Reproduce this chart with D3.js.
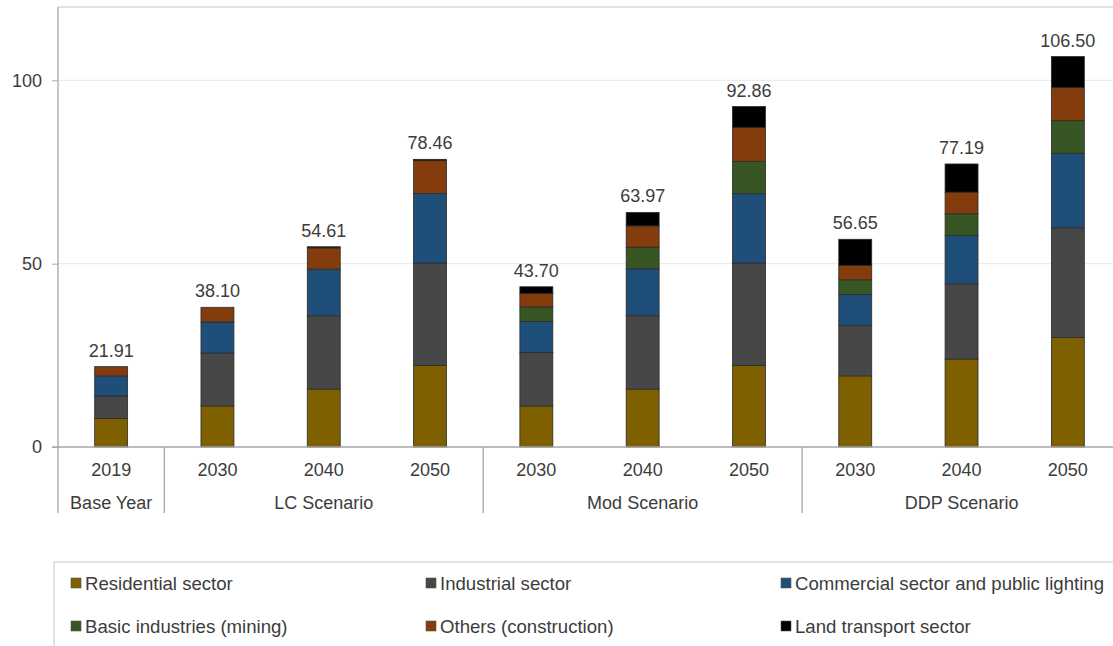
<!DOCTYPE html>
<html><head><meta charset="utf-8">
<script src="https://cdn.jsdelivr.net/npm/d3@7"></script>
<style>
html,body{margin:0;padding:0;background:#fff;}
svg{display:block;font-family:"Liberation Sans",Arial,sans-serif;}
</style></head>
<body><svg id="c" width="1113" height="646"></svg>
<script>
const keys = ["b2019","lc2030","lc2040","lc2050","m2030","m2040","m2050","d2030","d2040","d2050"];
const years = ["2019","2030","2040","2050","2030","2040","2050","2030","2040","2050"];
const groups = [
  {name:"Base Year", from:0, to:1},
  {name:"LC Scenario", from:1, to:4},
  {name:"Mod Scenario", from:4, to:7},
  {name:"DDP Scenario", from:7, to:10}
];
const totalLabels = ["21.91","38.10","54.61","78.46","43.70","63.97","92.86","56.65","77.19","106.50"];
const seriesNames = ["Residential sector","Industrial sector","Commercial sector and public lighting","Basic industries (mining)","Others (construction)","Land transport sector"];
const seriesColors = ["#7f6000","#474747","#1f4e79","#375623","#843c0c","#000000"];
const residential = [7.8,11.2,15.8,22.2,11.2,15.8,22.2,19.4,24.0,29.9];
const industrial  = [6.1,14.4,20.0,28.0,14.6,20.0,28.0,13.7,20.5,29.9];
const commercial  = [5.5,8.5,12.7,18.9,8.4,12.8,18.9,8.5,13.2,20.3];
const basic       = [0,0,0,0,4.0,5.9,8.8,4.0,5.9,8.9];
const others      = [2.51,4.0,5.8,9.0,3.7,5.8,9.2,3.9,5.9,9.0];
const transport   = [0,0,0.31,0.36,1.8,3.67,5.76,7.15,7.69,8.5];
const yTicks = [0,50,100];

const seriesVals = [residential,industrial,commercial,basic,others,transport];
const table = keys.map((k,i)=>{const o={key:k,year:years[i],label:totalLabels[i]}; seriesNames.forEach((s,j)=>o[s]=seriesVals[j][i]); return o;});

const svg = d3.select("#c");
const L=58, R=1121, T=7, B=447;
const x = d3.scaleBand().domain(keys).range([L,R]).paddingInner(0.69).paddingOuter(0.345);
const y = d3.scaleLinear().domain([0,120]).range([B,T]);
const color = d3.scaleOrdinal().domain(seriesNames).range(seriesColors);
const txt = "#3c3c3c";

// frame top
svg.append("line").attr("x1",L).attr("x2",1113).attr("y1",T).attr("y2",T).attr("stroke","#d9d9d9").attr("stroke-width",1.5);
// gridlines
svg.append("g").selectAll("line").data(yTicks.filter(d=>d>0)).join("line")
  .attr("x1",L).attr("x2",1113).attr("y1",d=>y(d)).attr("y2",d=>y(d)).attr("stroke","#ececec").attr("stroke-width",1.2);

// y axis
const ya = svg.append("g").attr("transform",`translate(${L},0)`).call(d3.axisLeft(y).tickValues(yTicks).tickSize(6).tickPadding(10));
ya.select(".domain").remove();
ya.selectAll(".tick line").attr("stroke","#a6a6a6");
ya.selectAll(".tick text").attr("font-size",18).attr("fill",txt).attr("font-family","Liberation Sans, Arial, sans-serif");
svg.append("line").attr("x1",L).attr("x2",L).attr("y1",T).attr("y2",513).attr("stroke","#a6a6a6").attr("stroke-width",1.3);

// stacked bars
const stack = d3.stack().keys(seriesNames)(table);
svg.append("g").selectAll("g").data(stack).join("g").attr("fill",d=>color(d.key))
  .selectAll("rect").data(d=>d.filter(p=>p[1]-p[0]>0)).join("rect")
  .attr("x",d=>x(d.data.key)).attr("width",x.bandwidth())
  .attr("y",d=>y(d[1])).attr("height",d=>y(d[0])-y(d[1]))
  .attr("stroke","#2b2b2b").attr("stroke-width",0.8);

// x axis baseline
svg.append("line").attr("x1",L-6).attr("x2",1113).attr("y1",B).attr("y2",B).attr("stroke","#a6a6a6").attr("stroke-width",1.3);

// total labels
svg.append("g").selectAll("text").data(table).join("text")
  .attr("x",d=>x(d.key)+x.bandwidth()/2)
  .attr("y",d=>y(seriesNames.reduce((s,n)=>s+d[n],0))-10)
  .attr("text-anchor","middle").attr("font-size",18).attr("fill",txt).text(d=>d.label);

// year labels
svg.append("g").selectAll("text").data(table).join("text")
  .attr("x",d=>x(d.key)+x.bandwidth()/2).attr("y",476)
  .attr("text-anchor","middle").attr("font-size",18).attr("fill",txt).text(d=>d.year);

// group separators and labels
const step = x.step();
svg.append("g").selectAll("line").data(groups.slice(1)).join("line")
  .attr("x1",d=>L+step*d.from).attr("x2",d=>L+step*d.from).attr("y1",B).attr("y2",513)
  .attr("stroke","#a6a6a6").attr("stroke-width",1.3);
svg.append("g").selectAll("text").data(groups).join("text")
  .attr("x",d=>L+step*(d.from+d.to)/2).attr("y",509)
  .attr("text-anchor","middle").attr("font-size",18).attr("fill",txt).text(d=>d.name);

// legend
svg.append("rect").attr("x",54).attr("y",562).attr("width",1080).attr("height",100)
  .attr("fill","none").attr("stroke","#d9d9d9").attr("stroke-width",1.5);
const colX = [71,426,781];
const rowY = [583,626];
const lg = svg.append("g").selectAll("g").data(seriesNames).join("g")
  .attr("transform",(d,i)=>`translate(${colX[i%3]},${rowY[Math.floor(i/3)]})`);
lg.append("rect").attr("x",0).attr("y",-5).attr("width",10).attr("height",10)
  .attr("fill",d=>color(d)).attr("stroke","#555").attr("stroke-width",0.6);
lg.append("text").attr("x",14).attr("y",0).attr("dy","0.35em").attr("font-size",18.6).attr("fill",txt).text(d=>d);
</script></body></html>
